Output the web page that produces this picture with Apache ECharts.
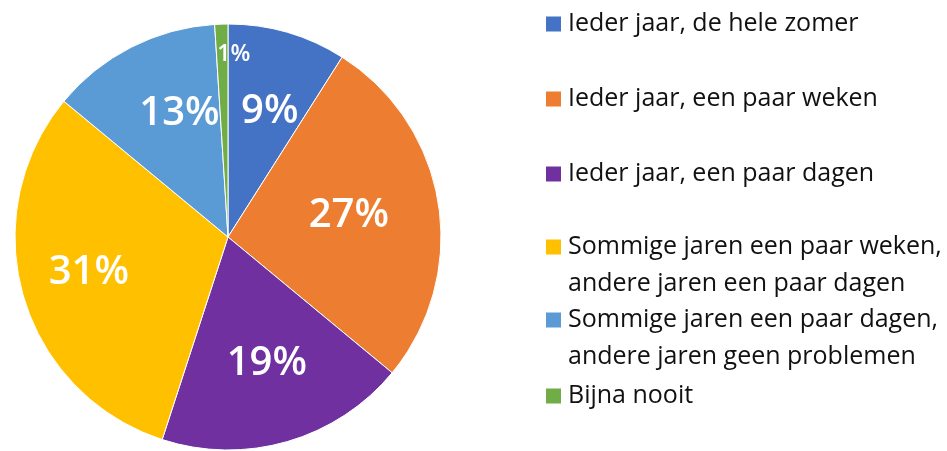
<!DOCTYPE html>
<html>
<head>
<meta charset="utf-8">
<script src="https://cdn.jsdelivr.net/npm/echarts@6/dist/echarts.min.js"></script>
<style>
  html, body { margin: 0; padding: 0; background: #fff; }
  #chart { width: 947px; height: 451px; }
</style>
</head>
<body>
<div id="chart"></div>
<script>
const categories = [
  'Ieder jaar, de hele zomer',
  'Ieder jaar, een paar weken',
  'Ieder jaar, een paar dagen',
  'Sommige jaren een paar weken,\nandere jaren een paar dagen',
  'Sommige jaren een paar dagen,\nandere jaren geen problemen',
  'Bijna nooit'
];
const values = [9, 27, 19, 31, 13, 1];
const colors = ['#4472C4', '#ED7D31', '#7030A0', '#FFC000', '#5B9BD5', '#70AD47'];

const chart = echarts.init(document.getElementById('chart'));

const FONT = '"Open Sans", sans-serif';
const LINE = 37;
const legendCenters = [24, 99, 174, 247, 320, 396];
// small nudges so the percent labels sit where the original "best fit" put them
const labelNudge = [[4, 5], [-13, 0], [1, -4], [-9, -2], [13, -3], [34, 30]];

const pieData = categories.map((name, i) => ({
  name,
  value: values[i],
  itemStyle: { color: colors[i] }
}));

const labelData = categories.map((name, i) => ({
  name,
  value: values[i],
  label: values[i] < 3 ? { fontSize: 23, position: 'outside' } : undefined
}));

const option = {
  animation: false,
  legend: categories.map((name, i) => {
    const multi = name.includes('\n');
    return {
      data: [{ name, icon: 'rect' }],
      orient: 'vertical',
      left: 544,
      top: multi ? legendCenters[i] - 1.5 * LINE : legendCenters[i] - LINE / 2,
      padding: 0,
      itemWidth: 17,
      itemHeight: 17,
      itemGap: 0,
      selectedMode: false,
      formatter: (n) => (n.includes('\n') ? '\n' + n : n),
      textStyle: {
        fontFamily: FONT,
        fontSize: 25,
        lineHeight: LINE,
        color: '#111',
        padding: [0, 0, 0, 1]
      }
    };
  }),
  series: [
    {
      type: 'pie',
      center: [228, 237],
      radius: [0, 213],
      startAngle: 90,
      clockwise: true,
      label: { show: false },
      labelLine: { show: false },
      itemStyle: { borderColor: '#fff', borderWidth: 1 },
      emphasis: { disabled: true },
      data: pieData
    },
    {
      type: 'pie',
      center: [228, 237],
      radius: [52, 213],
      startAngle: 90,
      clockwise: true,
      silent: true,
      avoidLabelOverlap: false,
      itemStyle: { color: 'rgba(0,0,0,0)' },
      labelLine: { show: false, length: 0, length2: 0 },
      label: {
        show: true,
        position: 'inside',
        formatter: '{c}%',
        color: '#fff',
        fontFamily: FONT,
        fontWeight: 600,
        fontSize: 40
      },
      labelLayout: (p) => ({ dx: labelNudge[p.dataIndex][0], dy: labelNudge[p.dataIndex][1] }),
      data: labelData
    }
  ]
};

chart.setOption(option);
</script>
</body>
</html>
